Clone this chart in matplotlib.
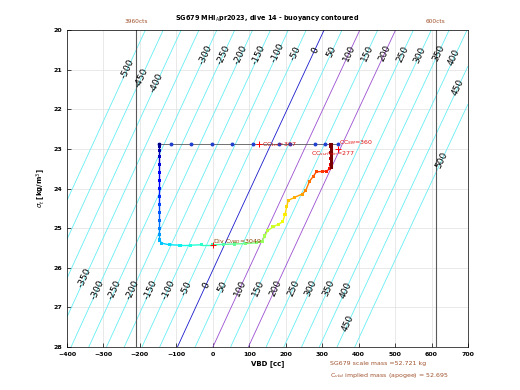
import numpy as np
import matplotlib as mpl
import matplotlib.pyplot as plt
from matplotlib.collections import LineCollection

mpl.use('Agg')

# glider numbers
mass_g = 52721.0      # scale mass [g]
vol0_cc = 51382.0     # hull volume at VBD = 0 [cc]
levels = np.arange(-500, 501, 50)

# contour label spots (level, sigma_t)
top_lbl_lev = [-500, -450, -400, -300, -250, -200, -150, -100, -50, 0, 50, 100, 150, 200, 250, 300, 350, 400, 450, 500]
top_lbl_sig = [20.98, 21.21, 21.34, 20.63, 20.63, 20.63, 20.63, 20.58, 20.58, 20.5, 20.55, 20.58, 20.58, 20.58, 20.6, 20.63, 20.58, 20.68, 21.44, 23.28]
bot_lbl_lev = [-350, -300, -250, -200, -150, -100, -50, 0, 50, 100, 150, 200, 250, 300, 350, 400, 450]
bot_lbl_sig = [26.26, 26.56, 26.56, 26.56, 26.56, 26.56, 26.51, 26.44, 26.49, 26.51, 26.51, 26.51, 26.51, 26.51, 26.51, 26.56, 27.39]

# surface points (blue dots)
surf_vbd = [-148, -115, -60, -3, 53, 110, 182, 212, 280, 308, 343]
surf_sig = [22.88] * len(surf_vbd)

# dive trace, coloured by sample order
dive_vbd = [-147, -147, -147, -147, -147, -147, -147, -147, -147, -147, -147, -147, -147, -147, -147,
            -140, -120, -90, -60, -30, 0, 30, 60, 90, 120, 135,
            143, 150, 165, 180, 192, 198, 203, 207, 225, 245, 255, 265, 275, 284, 300, 313, 320,
            324, 324, 324, 324, 324]
dive_sig = [22.90, 22.95, 23.05, 23.2, 23.4, 23.6, 23.8, 24.0, 24.2, 24.4, 24.6, 24.8, 25.0, 25.15, 25.3,
            25.38, 25.42, 25.43, 25.43, 25.42, 25.42, 25.41, 25.40, 25.39, 25.37, 25.33,
            25.20, 25.07, 24.97, 24.90, 24.84, 24.65, 24.45, 24.30, 24.22, 24.14, 24.05, 23.82, 23.70, 23.58,
            23.57, 23.56, 23.50, 23.40, 23.25, 23.10, 22.95, 22.88]

cts_vbd = [-210, 612]
cts_txt = ['3960cts', '600cts']


def vbd_on_level(b, sig):
    return (mass_g + b) * 1000.0 / (1000.0 + sig) - vol0_cc


fig = plt.figure(figsize=(5.2, 3.9), dpi=100)
ax = fig.add_axes([0.1288, 0.1103, 0.7712, 0.8127])
ax.set_xlim(-400, 700)
ax.set_ylim(28, 20)

# buoyancy field
vv, ss = np.meshgrid(np.linspace(-400, 700, 400), np.linspace(20, 28, 200))
buoy = (vol0_cc + vv) * (1000.0 + ss) / 1000.0 - mass_g
cols = []
for lv in levels:
    if lv == 0:
        cols.append('#1a1acc')
    elif lv in (100, 200):
        cols.append('#9b4fd0')
    else:
        cols.append('#66eef5')
cs = ax.contour(vv, ss, buoy, levels=levels, colors=cols, linewidths=0.6)

# contour labels, rotated along the line
for b, s in zip(top_lbl_lev + bot_lbl_lev, top_lbl_sig + bot_lbl_sig):
    x0 = vbd_on_level(b, s)
    p0 = ax.transData.transform((vbd_on_level(b, s - 0.2), s - 0.2))
    p1 = ax.transData.transform((vbd_on_level(b, s + 0.2), s + 0.2))
    ang = np.degrees(np.arctan2(p1[1] - p0[1], p1[0] - p0[0]))
    if ang > 90:
        ang -= 180
    elif ang < -90:
        ang += 180
    ax.text(x0, s, '%d' % b, fontsize=6.5, rotation=ang, rotation_mode='anchor',
            ha='center', va='center', zorder=3)

for x, t in zip(cts_vbd, cts_txt):
    ax.axvline(x, color='0.35', lw=0.8)
    ax.text(x, 19.85, t, color='#a0522d', fontsize=4.2, ha='center', va='bottom')

# surface line
ax.plot(surf_vbd, surf_sig, '-', color='0.35', lw=0.6, zorder=4)
ax.plot(surf_vbd, surf_sig, 'o', color='#2040d0', ms=1.8, zorder=5)

# coloured dive trace
pts = np.column_stack([dive_vbd, dive_sig])
segs = np.stack([pts[:-1], pts[1:]], axis=1)
cval = np.linspace(0, 1, len(dive_vbd))
lc = LineCollection(segs, cmap='jet', linewidths=1.0, zorder=5)
lc.set_array(cval[:-1])
ax.add_collection(lc)
ax.scatter(dive_vbd, dive_sig, c=cval, cmap='jet', s=5, marker='s', zorder=6, linewidths=0)
ax.plot([324, 324], [23.45, 22.88], color='#7a0000', lw=2.2, zorder=6)

# markers and notes
ax.plot(127, 22.88, '+', color='red', ms=4, mew=0.7, zorder=7)
ax.text(135, 22.88, 'CC$_{1m}$=307', color='#d01010', fontsize=4.5, va='center', zorder=8)
ax.plot(343, 23.0, '+', color='red', ms=4, mew=0.7, zorder=7)
ax.text(346, 22.85, 'CC$_{SM}$=360', color='#e01010', fontsize=4.5, va='center', zorder=8)
ax.text(270, 23.12, 'CC$_{surf min}$=277', color='#e01010', fontsize=4.5, va='center', zorder=8)
ax.plot(0, 25.42, '+', color='red', ms=4, mew=0.7, zorder=7)
ax.text(0, 25.33, 'Div C$_{VBD}$=3049', color='#8b4000', fontsize=4.5, va='center', zorder=8)

ax.set_xticks(np.arange(-400, 701, 100))
ax.set_yticks(np.arange(20, 29, 1))
ax.grid(True, color='0.88', lw=0.5)
ax.set_axisbelow(True)
ax.tick_params(direction='in', labelsize=4.5, length=3, width=0.5)
for lb in ax.get_xticklabels() + ax.get_yticklabels():
    lb.set_fontweight('bold')
for sp in ax.spines.values():
    sp.set_linewidth(0.5)

ax.set_xlabel('VBD [cc]', fontsize=5, fontweight='bold', labelpad=2)
ax.set_ylabel(r'$\sigma_t$ [kg/m$^3$]', fontsize=5, fontweight='bold', labelpad=4)
ax.set_title(r'SG679 MHI$_\mathrm{A}$pr2023, dive 14 - buoyancy contoured', fontsize=4.7, fontweight='bold', pad=7)

fig.text(330 / 520, 1 - 364 / 390, 'SG679 scale mass =52.721 kg', color='#a0522d', fontsize=4.5, va='center')
fig.text(330 / 520, 1 - 376 / 390, 'C$_{vbd}$ implied mass (apogee) = 52.695', color='#a0522d', fontsize=4.5, va='center')

plt.savefig('out.png', dpi=100)
